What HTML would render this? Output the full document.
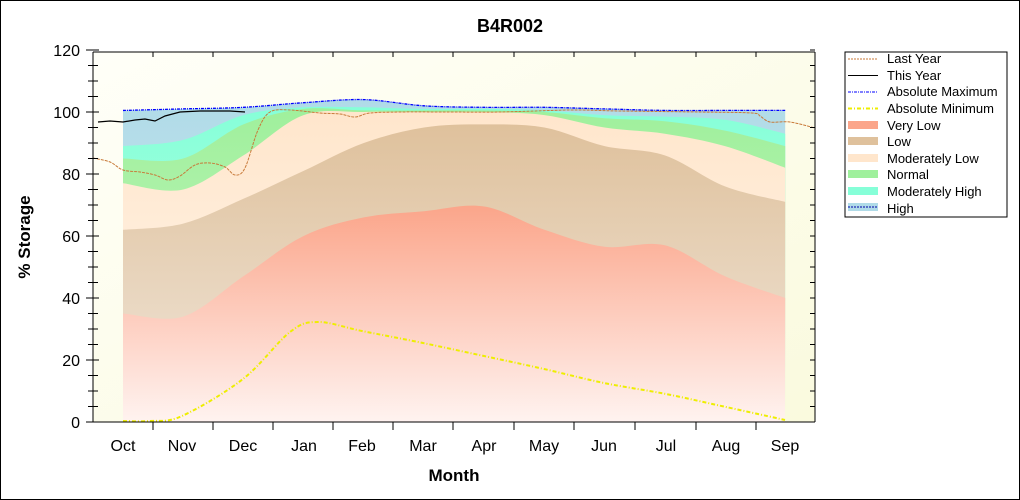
<!DOCTYPE html>
<html><head><meta charset="utf-8"><style>
html,body{margin:0;padding:0;background:#fff;}
svg{display:block;font-family:"Liberation Sans",Arial,sans-serif;}
</style></head><body>
<svg id="s" width="1020" height="500" viewBox="0 0 1020 500">
<defs>
<linearGradient id="bg" x1="0" y1="0" x2="1" y2="1"><stop offset="0" stop-color="#fffff8"/><stop offset="1" stop-color="#fafade"/></linearGradient>
<linearGradient id="gvl" x1="0" y1="0" x2="0" y2="1"><stop offset="0" stop-color="#fba58a"/><stop offset="1" stop-color="#fff3f0"/></linearGradient>
<linearGradient id="glo" x1="0" y1="0" x2="0" y2="1"><stop offset="0" stop-color="#dfc19c"/><stop offset="1" stop-color="#f0e6da"/></linearGradient>
<linearGradient id="gml" x1="0" y1="0" x2="0" y2="1"><stop offset="0" stop-color="#ffe6cc"/><stop offset="1" stop-color="#fff6ec"/></linearGradient>
<linearGradient id="gno" x1="0" y1="0" x2="0" y2="1"><stop offset="0" stop-color="#9ff09c"/><stop offset="1" stop-color="#cdf5c6"/></linearGradient>
<linearGradient id="gmh" x1="0" y1="0" x2="0" y2="1"><stop offset="0" stop-color="#86ffd8"/><stop offset="1" stop-color="#c0fde8"/></linearGradient>
<linearGradient id="ghi" x1="0" y1="0" x2="0" y2="1"><stop offset="0" stop-color="#b0dbe8"/><stop offset="1" stop-color="#d6ebf0"/></linearGradient>
</defs>
<rect x="0.5" y="0.5" width="1019" height="499" fill="#fff" stroke="#000"/>
<text x="510" y="32" text-anchor="middle" font-size="18" font-weight="bold">B4R002</text>
<rect x="93" y="52" width="722" height="370" fill="url(#bg)"/>
<g id="bands"></g>
<g id="lines"></g>
<g stroke="#000" fill="none">
<line x1="93" y1="52" x2="93" y2="422"/><line x1="93" y1="422" x2="815" y2="422"/>
<line x1="93" y1="52" x2="815" y2="52"/><line x1="815" y1="52" x2="815" y2="422"/>
<g id="ticks"></g>
</g>
<g font-size="16" text-anchor="end" id="ylab"></g>
<g font-size="16" text-anchor="middle" id="xlab"></g>
<text x="454" y="481" text-anchor="middle" font-size="17" font-weight="bold">Month</text>
<text transform="translate(30,237) rotate(-90)" text-anchor="middle" font-size="17" font-weight="bold">% Storage</text>
<rect x="845" y="52" width="162" height="165" fill="#fff" stroke="#000"/>
<g font-size="13" fill="#000">
<line x1="848" y1="59" x2="878" y2="59" stroke="#c87a3a" stroke-dasharray="2,1"/><text x="887" y="63">Last Year</text>
<line x1="848" y1="75.5" x2="878" y2="75.5" stroke="#000"/><text x="887" y="80">This Year</text>
<line x1="848" y1="92" x2="878" y2="92" stroke="#00f" stroke-dasharray="3,1,1,1"/><text x="887" y="96">Absolute Maximum</text>
<line x1="848" y1="108.5" x2="878" y2="108.5" stroke="#ee0" stroke-width="2" stroke-dasharray="4,2,1,2"/><text x="887" y="113">Absolute Minimum</text>
<rect x="848" y="121" width="30" height="8" fill="#fba58a"/><text x="887" y="130">Very Low</text>
<rect x="848" y="137" width="30" height="8" fill="#dfc19c"/><text x="887" y="146">Low</text>
<rect x="848" y="154" width="30" height="8" fill="#ffe6cc"/><text x="887" y="163">Moderately Low</text>
<rect x="848" y="170" width="30" height="8" fill="#9ff09c"/><text x="887" y="179">Normal</text>
<rect x="848" y="187" width="30" height="8" fill="#86ffd8"/><text x="887" y="196">Moderately High</text>
<rect x="848" y="203" width="30" height="8" fill="#b0dbe8"/><line x1="848" y1="207" x2="878" y2="207" stroke="#00a" stroke-dasharray="2,1"/><text x="887" y="213">High</text>
</g>
</svg>
<script>
var NS="http://www.w3.org/2000/svg";
function X(i){return 123+i*60.2;}function Y(v){return 422-3.1*v;}
function spline(pts){var d="M"+pts[0][0]+","+pts[0][1];for(var i=0;i<pts.length-1;i++){var p0=pts[i-1]||pts[i],p1=pts[i],p2=pts[i+1],p3=pts[i+2]||p2;var c1=[p1[0]+(p2[0]-p0[0])/6,p1[1]+(p2[1]-p0[1])/6],c2=[p2[0]-(p3[0]-p1[0])/6,p2[1]-(p3[1]-p1[1])/6];d+=" C"+c1[0].toFixed(1)+","+c1[1].toFixed(1)+" "+c2[0].toFixed(1)+","+c2[1].toFixed(1)+" "+p2[0].toFixed(1)+","+p2[1].toFixed(1);}return d;}
function P(a){return a.map(function(v,i){return [X(i),Y(v)];});}
var VL=[35,34,47,60,66,68,69.5,62,56.5,57,47,40];
var LO=[62,64,72,81,90,95,96,95,89,86,76,71];
var ML=[77,75,86,99,100,100,100,99,95,93,89,82];
var NO=[85,85,96,101,100.5,100.5,100.5,100,98,97,94,89];
var MH=[89,91,99,101.5,101.5,101,101,100.5,99,98.5,97.5,93];
var HI=[100.5,101,101.5,103,104,102,101.5,101.5,101,100.5,100.5,100.5];
var MN=[1,2,13,28,29,26,22,18,13,9,5,1];
var bands=[[HI,"url(#ghi)"],[MH,"url(#gmh)"],[NO,"url(#gno)"],[ML,"url(#gml)"],[LO,"url(#glo)"],[VL,"url(#gvl)"]];
var g=document.getElementById("bands");
bands.forEach(function(b){var p=document.createElementNS(NS,"path");p.setAttribute("d",spline(P(b[0]))+" L785,422 L123,422 Z");p.setAttribute("fill",b[1]);g.appendChild(p);});
var L=document.getElementById("lines");
function line(d,st,w,da){var p=document.createElementNS(NS,"path");p.setAttribute("d",d);p.setAttribute("fill","none");p.setAttribute("stroke",st);p.setAttribute("stroke-width",w);if(da)p.setAttribute("stroke-dasharray",da);L.appendChild(p);}
var mn=[[123,421],[150,421],[182,416],[243,379],[290,332],[318,322],[362,331],[423,343],[484,356],[544,369],[604,383],[666,394],[726,407],[785,420]];
line(spline(mn),"#ee0",2,"4,2,1,2");
line(spline(P(HI)),"#00f",1.3,"3,1,1,1");
var ly=[[93,158],[110,162],[123,170],[140,172],[155,175],[168,180],[180,176],[195,165],[210,163],[225,167],[235,175],[245,168],[258,130],[270,112],[290,110],[320,113],[340,114],[355,117],[370,113],[400,112],[450,112],[500,112],[570,110],[620,111],[700,112],[752,113],[760,116],[770,122],[790,122],[815,128]];
line(spline(ly),"#c87a3a",1,"3,1");
var ty=[[98,122],[110,121],[123,122],[135,120],[145,119],[155,121],[165,116],[180,112],[200,111],[230,111],[245,112]];
line("M"+ty.map(function(p){return p.join(",")}).join(" L"),"#000",1.2);
var t=document.getElementById("ticks"),yl=document.getElementById("ylab"),xl=document.getElementById("xlab");
for(var v=0;v<=120;v+=5){var y=Y(v);var maj=v%20==0;var ln=document.createElementNS(NS,"line");ln.setAttribute("x1",maj?86:88);ln.setAttribute("x2",maj?99:98);ln.setAttribute("y1",y);ln.setAttribute("y2",y);t.appendChild(ln);
var l2=document.createElementNS(NS,"line");l2.setAttribute("x1",810);l2.setAttribute("x2",815);l2.setAttribute("y1",y);l2.setAttribute("y2",y);t.appendChild(l2);
if(maj){var tx=document.createElementNS(NS,"text");tx.setAttribute("x",80);tx.setAttribute("y",y+6);tx.textContent=v;yl.appendChild(tx);}}
var mon=["Oct","Nov","Dec","Jan","Feb","Mar","Apr","May","Jun","Jul","Aug","Sep"];
var mx=[123,182,243,304,362,423,484,544,604,666,726,785];
var bx=[153,213,273,333,393,453,514,574,635,696,756];
bx.forEach(function(x){[[422,430],[52,57]].forEach(function(r){var ln=document.createElementNS(NS,"line");ln.setAttribute("x1",x);ln.setAttribute("x2",x);ln.setAttribute("y1",r[0]);ln.setAttribute("y2",r[1]);t.appendChild(ln);});});
mon.forEach(function(m,i){var tx=document.createElementNS(NS,"text");tx.setAttribute("x",mx[i]);tx.setAttribute("y",451);tx.textContent=m;xl.appendChild(tx);});
</script>
</body></html>
